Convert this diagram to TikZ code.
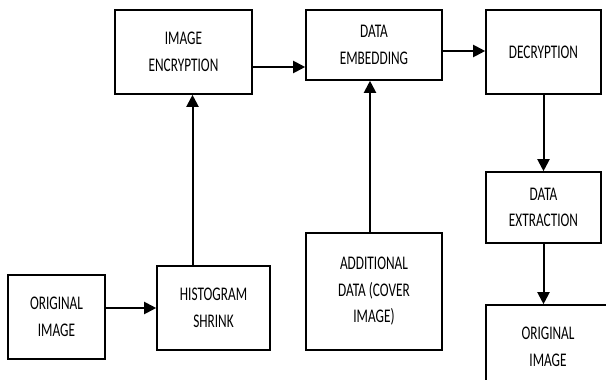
\documentclass[tikz,border=0pt]{standalone}
\usepackage{fontspec}
\usepackage{graphicx}
\setmainfont{Carlito}
\usetikzlibrary{positioning, arrows.meta}

% tall, narrow lettering for the block labels
\newcommand{\tall}[1]{\scalebox{1}[1.45]{#1}}

\begin{document}
\begin{tikzpicture}[
  x=1pt, y=-1pt,
  block/.style={
    rectangle,
    draw=black, line width=1.6pt,
    align=center,
    inner sep=0pt,
    font=\fontsize{13.3}{26.5}\selectfont
  },
  flow/.style={
    line width=2pt,
    -{Triangle[length=12pt,width=12pt]}
  }
]
\useasboundingbox (0,0) rectangle (606,380);

% sender side
\node [block, minimum width=97pt, minimum height=84pt] (orig) at (56.5,317) {\tall{ORIGINAL}\\\tall{IMAGE}};
\node [block, minimum width=113pt, minimum height=84pt] (hist) at (213.5,308) {\tall{HISTOGRAM}\\\tall{SHRINK}};
\node [block, minimum width=137pt, minimum height=84pt] (enc) at (183.5,52) {\tall{IMAGE}\\\tall{ENCRYPTION}};
\node [block, minimum width=136pt, minimum height=70pt] (emb) at (374,45) {\tall{DATA}\\\tall{EMBEDDING}};
\node [block, minimum width=136pt, minimum height=117pt] (add) at (374,291.5) {\tall{ADDITIONAL}\\\tall{DATA (COVER}\\\tall{IMAGE)}};

% receiver side
\node [block, minimum width=115pt, minimum height=84pt] (dec) at (543.5,52) {\tall{DECRYPTION}};
\node [block, minimum width=115pt, minimum height=71pt] (ext) at (543.5,207.5) {\tall{DATA}\\\tall{EXTRACTION}};
\node [block, minimum width=124pt, minimum height=84pt] (res) at (548,347) {\tall{ORIGINAL}\\\tall{IMAGE}};

\draw [flow] (orig.east |- hist.west) -- (hist.west);
\draw [flow] ([xshift=-21pt]hist.north) -- ([xshift=-21pt]hist.north |- enc.south);
\draw [flow] ([yshift=-15pt]enc.east) -- ([yshift=-15pt]enc.east -| emb.west);
\draw [flow] ([xshift=-4pt]add.north) -- ([xshift=-4pt]emb.south);
\draw [flow] ([yshift=-6pt]emb.east) -- ([yshift=-6pt]emb.east -| dec.west);
\draw [flow] (dec.south) -- (ext.north);
\draw [flow] (ext.south) -- (ext.south |- res.north);
\end{tikzpicture}
\end{document}
